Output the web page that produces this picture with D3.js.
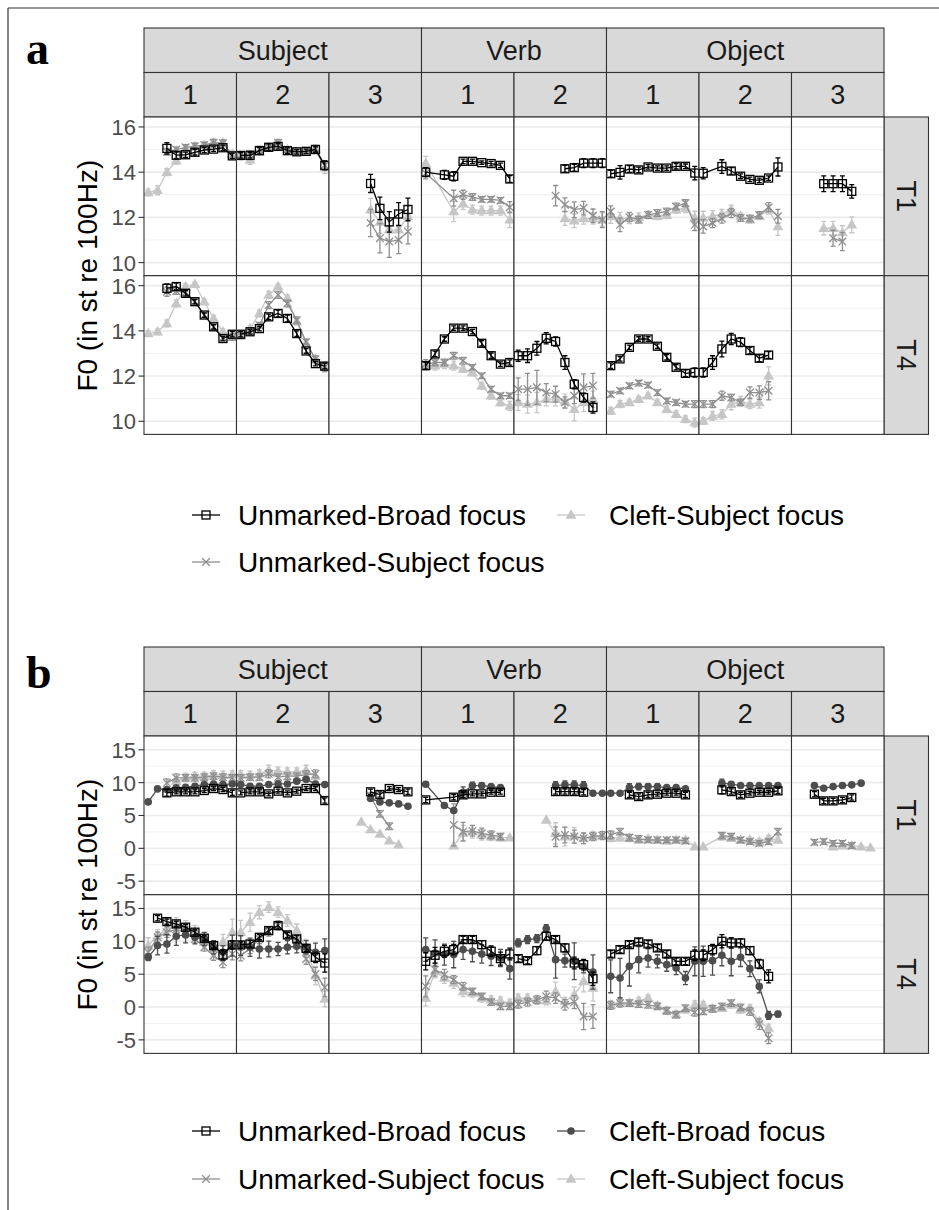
<!DOCTYPE html>
<html>
<head>
<meta charset="utf-8">
<script src="https://cdn.jsdelivr.net/npm/d3@7"></script>
<style>
body { margin: 0; background: #fff; }
svg { display: block; font-family: Arial, "Liberation Sans", sans-serif; }
</style>
</head>
<body>
<svg id="fig" width="939" height="1210"></svg>
<script>
// facet labels
var groupNames = ["Subject", "Verb", "Object"];
var groupSpans = [3, 2, 3];
var syllables = ["1", "2", "3", "1", "2", "1", "2", "3"];
var tones = ["T1", "T4"];
var timePoints = [1, 2, 3, 4, 5, 6, 7, 8, 9, 10];

var ticksA = [10, 12, 14, 16], minorA = [11, 13, 15];
var ticksB = [-5, 0, 5, 10, 15], minorB = [-2.5, 2.5, 7.5, 12.5];

// ---- panel a, T1 (one row of 10 time points per facet: S1 S2 S3 V1 V2 O1 O2 O3)
var aBroadT1 = [
  [null, null, 15.05, 14.75, 14.77, 14.88, 14.98, 15.02, 15.08, 14.72],
  [14.74, 14.74, 14.95, 15.1, 15.14, 14.95, 14.9, 14.92, 15.0, 14.3],
  [null, null, null, null, 13.5, 12.4, 11.8, 12.15, 12.35, null],
  [14.0, null, 13.88, 13.82, 14.48, 14.48, 14.42, 14.38, 14.3, 13.7],
  [null, null, null, null, null, 14.15, 14.2, 14.4, 14.4, 14.4],
  [13.93, 13.99, 14.14, 14.1, 14.23, 14.18, 14.18, 14.26, 14.26, 13.96],
  [13.95, null, 14.25, 14.05, 13.82, 13.68, 13.64, 13.74, 14.23, null],
  [null, null, null, 13.49, 13.49, 13.49, 13.15, null, null, null]
];
var aBroadT1Err = [
  [null, null, 0.25, 0.15, 0.12, 0.12, 0.12, 0.1, 0.12, 0.12],
  [0.12, 0.12, 0.15, 0.15, 0.12, 0.12, 0.1, 0.1, 0.12, 0.2],
  [null, null, null, null, 0.4, 0.5, 0.45, 0.5, 0.5, null],
  [0.2, null, 0.2, 0.2, 0.1, 0.1, 0.08, 0.1, 0.1, 0.15],
  [null, null, null, null, null, 0.15, 0.15, 0.2, 0.2, 0.2],
  [0.15, 0.3, 0.15, 0.12, 0.1, 0.1, 0.1, 0.12, 0.1, 0.3],
  [0.25, null, 0.3, 0.15, 0.1, 0.1, 0.1, 0.1, 0.4, null],
  [null, null, null, 0.35, 0.35, 0.35, 0.3, null, null, null]
];
var aSubjT1 = [
  [null, null, 14.9, 15.0, 15.1, 15.15, 15.2, 15.3, 15.28, 14.75],
  [14.75, 14.8, 15.0, 15.1, 15.3, 15.0, 14.9, 14.95, 15.05, 14.3],
  [null, null, null, null, 11.75, 11.08, 10.93, 11.0, 11.38, null],
  [13.95, null, null, 12.85, 13.0, 12.9, 12.8, 12.8, 12.75, 12.45],
  [null, null, null, null, 12.96, 12.56, 12.34, 12.41, 12.07, 11.9],
  [12.26, 11.67, 12.01, 11.9, 12.11, 12.19, 12.26, 12.48, 12.63, 11.67],
  [11.6, 11.75, 11.95, 12.19, 11.97, 11.95, 12.1, 12.45, 12.05, null],
  [null, null, null, null, 11.08, 10.93, null, null, null, null]
];
var aSubjT1Err = [
  [null, null, 0.15, 0.12, 0.12, 0.12, 0.12, 0.15, 0.15, 0.12],
  [0.12, 0.15, 0.15, 0.12, 0.15, 0.12, 0.12, 0.12, 0.15, 0.2],
  [null, null, null, null, 0.6, 0.65, 0.7, 0.6, 0.55, null],
  [0.25, null, null, 0.35, 0.2, 0.15, 0.12, 0.12, 0.12, 0.25],
  [null, null, null, null, 0.45, 0.3, 0.35, 0.3, 0.3, 0.35],
  [0.25, 0.3, 0.2, 0.15, 0.15, 0.15, 0.15, 0.15, 0.15, 0.25],
  [0.3, 0.2, 0.2, 0.2, 0.15, 0.15, 0.15, 0.2, 0.3, null],
  [null, null, null, null, 0.35, 0.4, null, null, null, null]
];
var aCleftSubjT1 = [
  [13.1, 13.2, 14.0, 14.5, 15.05, 15.15, 15.2, 15.3, 15.3, 14.8],
  [14.7, 14.55, 14.9, 15.1, 15.2, 15.0, 14.9, 14.9, 15.0, 14.2],
  [null, null, null, null, 12.34, 11.8, 11.45, 11.45, 12.04, null],
  [14.4, null, null, 12.26, 12.6, 12.34, 12.3, 12.3, 12.3, 11.9],
  [null, null, null, null, null, 11.95, 11.85, 11.95, 11.95, 11.9],
  [12.04, 11.97, 11.97, 12.0, 12.1, 12.05, 12.1, 12.34, 12.41, 11.97],
  [11.97, 12.05, 12.15, 12.34, 12.05, 11.9, 12.05, 12.34, 11.6, null],
  [null, null, null, 11.52, 11.52, 11.33, 11.67, null, null, null]
];
var aCleftSubjT1Err = [
  [0.15, 0.2, 0.15, 0.15, 0.15, 0.15, 0.15, 0.15, 0.15, 0.15],
  [0.15, 0.2, 0.15, 0.12, 0.12, 0.12, 0.12, 0.12, 0.12, 0.25],
  [null, null, null, null, 0.5, 0.5, 0.5, 0.5, 0.45, null],
  [0.3, null, null, 0.45, 0.25, 0.2, 0.2, 0.2, 0.2, 0.35],
  [null, null, null, null, null, 0.3, 0.3, 0.25, 0.25, 0.3],
  [0.3, 0.25, 0.25, 0.2, 0.15, 0.15, 0.15, 0.15, 0.2, 0.3],
  [0.3, 0.25, 0.2, 0.2, 0.15, 0.15, 0.15, 0.2, 0.4, null],
  [null, null, null, 0.3, 0.3, 0.3, 0.35, null, null, null]
];

// ---- panel a, T4
var aBroadT4 = [
  [null, null, 15.88, 15.96, 15.66, 15.29, 14.7, 14.18, 13.66, 13.85],
  [13.85, 13.96, 14.1, 14.62, 14.77, 14.55, 13.88, 13.11, 12.55, 12.44],
  [null, null, null, null, null, null, null, null, null, null],
  [12.46, 12.98, 13.64, 14.12, 14.12, 13.97, 13.45, 12.9, 12.53, 12.6],
  [12.9, 12.9, 13.23, 13.67, 13.53, 12.6, 11.64, 11.05, 10.61, null],
  [12.46, 12.76, 13.27, 13.64, 13.64, 13.32, 12.83, 12.39, 12.12, 12.16],
  [12.16, 12.6, 13.2, 13.64, 13.5, 13.13, 12.79, 12.93, null, null],
  [null, null, null, null, null, null, null, null, null, null]
];
var aBroadT4Err = [
  [null, null, 0.2, 0.15, 0.12, 0.1, 0.1, 0.1, 0.1, 0.12],
  [0.12, 0.1, 0.1, 0.12, 0.15, 0.15, 0.12, 0.1, 0.1, 0.12],
  [null, null, null, null, null, null, null, null, null, null],
  [0.15, 0.12, 0.1, 0.1, 0.1, 0.1, 0.12, 0.12, 0.1, 0.12],
  [0.25, 0.3, 0.3, 0.25, 0.2, 0.3, 0.2, 0.2, 0.25, null],
  [0.12, 0.1, 0.1, 0.1, 0.1, 0.1, 0.12, 0.12, 0.15, 0.2],
  [0.2, 0.3, 0.35, 0.25, 0.2, 0.15, 0.15, 0.15, null, null],
  [null, null, null, null, null, null, null, null, null, null]
];
var aSubjT4 = [
  [null, null, 15.73, 15.76, 15.7, 15.29, 14.7, 14.18, 13.7, 13.73],
  [13.8, 13.98, 14.25, 15.14, 15.59, 15.21, 14.47, 13.51, 12.74, 12.4],
  [null, null, null, null, null, null, null, null, null, null],
  [12.53, 12.6, 12.6, 12.9, 12.68, 12.39, 12.01, 11.42, 11.13, 11.13],
  [11.42, 11.42, 11.5, 11.27, 11.2, 10.83, 11.13, 11.5, 11.57, null],
  [11.2, 11.35, 11.57, 11.69, 11.6, 11.27, 10.9, 10.83, 10.76, 10.76],
  [10.76, 10.76, 11.13, 11.05, 10.83, 11.27, 11.27, 11.35, null, null],
  [null, null, null, null, null, null, null, null, null, null]
];
var aSubjT4Err = [
  [null, null, 0.2, 0.15, 0.12, 0.12, 0.12, 0.12, 0.12, 0.15],
  [0.15, 0.12, 0.12, 0.15, 0.15, 0.15, 0.15, 0.12, 0.15, 0.2],
  [null, null, null, null, null, null, null, null, null, null],
  [0.2, 0.15, 0.15, 0.15, 0.15, 0.12, 0.12, 0.12, 0.12, 0.12],
  [0.5, 0.7, 0.75, 0.4, 0.35, 0.25, 0.35, 0.6, 0.55, null],
  [0.12, 0.12, 0.12, 0.12, 0.12, 0.12, 0.12, 0.12, 0.12, 0.15],
  [0.15, 0.15, 0.2, 0.15, 0.15, 0.25, 0.3, 0.4, null, null],
  [null, null, null, null, null, null, null, null, null, null]
];
var aCleftSubjT4 = [
  [13.88, 13.96, 14.33, 15.21, 15.96, 16.06, 15.29, 14.55, 13.96, 13.73],
  [13.8, 14.1, 14.77, 15.59, 15.96, 15.44, 14.4, 13.44, 12.77, 12.4],
  [null, null, null, null, null, null, null, null, null, null],
  [12.46, 12.46, 12.53, 12.46, 12.31, 12.16, 11.57, 11.13, 10.83, 10.68],
  [10.83, 10.76, 10.83, 10.98, 10.98, 10.9, 10.53, 10.83, 10.98, null],
  [10.46, 10.76, 10.83, 10.98, 11.13, 10.83, 10.53, 10.31, 10.09, 9.94],
  [10.01, 10.24, 10.31, 10.76, 10.9, 10.76, 10.83, 12.01, null, null],
  [null, null, null, null, null, null, null, null, null, null]
];
var aCleftSubjT4Err = [
  [0.12, 0.12, 0.15, 0.15, 0.12, 0.1, 0.12, 0.12, 0.12, 0.15],
  [0.12, 0.12, 0.15, 0.15, 0.12, 0.15, 0.15, 0.15, 0.15, 0.2],
  [null, null, null, null, null, null, null, null, null, null],
  [0.2, 0.2, 0.2, 0.2, 0.15, 0.15, 0.15, 0.15, 0.15, 0.2],
  [0.35, 0.4, 0.45, 0.3, 0.3, 0.3, 0.5, 0.4, 0.35, null],
  [0.15, 0.15, 0.12, 0.12, 0.12, 0.12, 0.15, 0.15, 0.15, 0.2],
  [0.15, 0.2, 0.2, 0.25, 0.2, 0.2, 0.25, 0.4, null, null],
  [null, null, null, null, null, null, null, null, null, null]
];

// ---- panel b, T1
var bBroadT1 = [
  [null, null, 8.44, 8.6, 8.6, 8.6, 8.8, 9.1, 8.95, 8.44],
  [8.44, 8.6, 8.6, 8.29, 8.7, 8.44, 8.7, 9.1, 9.1, 7.27],
  [null, null, null, null, 8.6, 8.19, 9.1, 8.95, 8.6, null],
  [7.37, null, null, 7.78, 8.14, 8.29, 8.29, 8.54, 8.54, null],
  [null, null, null, null, 8.64, 8.64, 8.64, 8.54, null, null],
  [null, null, 8.14, 7.88, 8.14, 8.24, 8.39, 8.39, 8.14, null],
  [null, null, 8.9, 8.64, 8.14, 8.39, 8.54, 8.54, 8.75, null],
  [null, null, 8.24, 7.22, 7.22, 7.37, 7.73, null, null, null]
];
var bBroadT1Err = [
  [null, null, 0.5, 0.3, 0.3, 0.3, 0.3, 0.3, 0.3, 0.4],
  [0.3, 0.3, 0.3, 0.3, 0.3, 0.3, 0.3, 0.3, 0.3, 0.4],
  [null, null, null, null, 0.4, 0.4, 0.3, 0.3, 0.4, null],
  [0.4, null, null, 0.4, 0.4, 0.3, 0.3, 0.3, 0.3, null],
  [null, null, null, null, 0.4, 0.4, 0.4, 0.4, null, null],
  [null, null, 0.4, 0.4, 0.4, 0.3, 0.3, 0.3, 0.4, null],
  [null, null, 0.6, 0.4, 0.4, 0.3, 0.3, 0.3, 0.4, null],
  [null, null, 0.4, 0.4, 0.4, 0.4, 0.4, null, null, null]
];
var bSubjT1 = [
  [null, null, 9.97, 10.73, 10.73, 10.73, 10.83, 10.98, 10.83, 10.73],
  [10.73, 10.83, 10.83, 11.34, 10.83, 10.98, 10.98, 11.24, 11.34, null],
  [null, null, null, null, 7.93, 5.24, 3.36, null, null, null],
  [null, null, null, 3.56, 2.54, 2.65, 2.29, 2.04, 1.78, null],
  [null, null, null, null, 1.78, 2.04, 1.78, 1.53, 1.78, 1.94],
  [2.04, 2.54, 1.63, 1.43, 1.27, 1.27, 1.27, 1.27, 1.12, null],
  [null, null, 1.94, 1.78, 1.27, 1.02, 0.77, 1.02, 2.54, null],
  [null, null, 0.92, 1.02, 0.77, 0.77, 0.41, null, null, null]
];
var bSubjT1Err = [
  [null, null, 0.6, 0.6, 0.5, 0.5, 0.5, 0.5, 0.5, 0.5],
  [0.5, 0.5, 0.5, 0.6, 0.5, 0.5, 0.5, 0.6, 0.6, null],
  [null, null, null, null, 0.5, 0.5, 0.5, null, null, null],
  [null, null, null, 3.2, 1.4, 0.8, 0.8, 0.6, 0.5, null],
  [null, null, null, null, 1.5, 1.2, 1.0, 0.8, 0.6, 0.6],
  [0.6, 0.5, 0.5, 0.5, 0.4, 0.4, 0.4, 0.4, 0.4, null],
  [null, null, 0.5, 0.5, 0.4, 0.4, 0.4, 0.4, 0.5, null],
  [null, null, 0.4, 0.4, 0.4, 0.4, 0.4, null, null, null]
];
var bCleftBroadT1 = [
  [7.07, 9.05, 8.95, 9.2, 9.3, 9.46, 9.7, 9.8, 9.7, 9.8],
  [9.71, 9.46, 9.46, 9.71, 9.8, 9.8, 10.2, 10.48, 9.8, 9.7],
  [null, null, null, null, 7.58, 7.07, 6.92, 6.76, 6.4, null],
  [9.76, null, 6.51, 5.75, 8.54, 9.56, 9.56, 9.4, 9.25, null],
  [null, null, null, null, 9.56, 9.66, 9.66, 9.56, 8.39, 8.39],
  [8.39, 8.39, 9.25, 9.4, 9.4, 9.4, 9.25, 9.25, 9.05, null],
  [null, null, 9.92, 9.76, 9.56, 9.56, 9.56, 9.56, 9.56, null],
  [null, null, 9.56, 9.15, 9.4, 9.56, 9.66, 9.92, null, null]
];
var bCleftBroadT1Err = [
  [null, null, 0.3, 0.3, 0.3, 0.3, 0.3, 0.3, 0.3, null],
  [0.3, 0.3, 0.3, 0.3, 0.3, 0.3, 0.3, 0.3, 0.3, null],
  [null, null, null, null, null, null, null, null, null, null],
  [null, null, null, null, 0.8, 0.5, 0.4, 0.3, 0.3, null],
  [null, null, null, null, 0.6, 0.6, 0.6, 0.6, null, null],
  [null, null, 0.6, 0.5, 0.4, 0.4, 0.3, 0.3, 0.3, null],
  [null, null, 0.6, 0.4, 0.3, 0.3, 0.3, 0.3, 0.3, null],
  [null, null, null, null, null, null, null, null, null, null]
];
var bCleftSubjT1 = [
  [null, null, null, 10.2, 10.8, 10.98, 10.98, 11.24, 11.14, 11.24],
  [11.24, 11.14, 11.34, 11.85, 11.75, 11.65, 11.65, 11.85, 10.98, null],
  [null, null, null, 4.02, 2.85, 2.19, 1.17, 0.56, null, null],
  [null, null, null, 0.41, 2.29, 2.54, 2.04, 1.78, 1.63, 1.63],
  [null, null, null, 4.32, 2.29, 1.78, 1.94, 1.53, 1.94, 1.94],
  [1.53, 1.63, 1.53, 1.27, 1.43, 1.27, 1.12, 1.27, 1.27, 0.26],
  [0.26, null, 1.78, 1.53, 1.27, 1.27, 1.02, 1.53, 1.27, null],
  [null, null, null, null, 0.26, 0.41, 0.41, 0.26, 0.1, null]
];
var bCleftSubjT1Err = [
  [null, null, null, 0.6, 0.6, 0.6, 0.6, 0.6, 0.6, 0.6],
  [0.6, 0.6, 0.6, 0.8, 0.6, 0.6, 0.6, 0.8, 0.6, null],
  [null, null, null, null, null, null, null, null, null, null],
  [null, null, null, null, 1.2, 1.0, 0.8, 0.6, 0.5, null],
  [null, null, null, null, 1.6, 1.4, 1.2, 0.8, 0.6, null],
  [0.5, 0.5, 0.5, 0.4, 0.4, 0.4, 0.4, 0.4, 0.4, null],
  [null, null, 0.5, 0.4, 0.4, 0.4, 0.4, 0.4, 0.4, null],
  [null, null, null, null, null, null, null, null, null, null]
];

// ---- panel b, T4
var bBroadT4 = [
  [null, 13.52, 13.0, 12.66, 12.15, 11.39, 10.47, 9.35, 7.93, 9.45],
  [9.45, 9.6, 10.62, 11.64, 12.4, 10.98, 10.37, 8.94, 7.57, 6.7],
  [null, null, null, null, null, null, null, null, null, null],
  [6.96, 7.88, 8.49, 8.74, 10.27, 10.27, 9.5, 8.49, 7.37, 8.08],
  [7.37, 7.06, 8.59, 10.78, 10.27, 9.0, 6.7, 6.45, 4.31, null],
  [8.08, 8.74, 9.5, 9.91, 9.61, 9.0, 8.08, 6.96, 6.96, 7.88],
  [7.88, 8.74, 10.01, 9.76, 9.76, 8.59, 6.55, 4.67, null, null],
  [null, null, null, null, null, null, null, null, null, null]
];
var bBroadT4Err = [
  [null, 0.4, 0.4, 0.4, 0.4, 0.4, 0.4, 0.4, 0.8, 0.6],
  [0.5, 0.5, 0.4, 0.4, 0.5, 0.4, 0.5, 0.5, 0.8, 1.4],
  [null, null, null, null, null, null, null, null, null, null],
  [1.3, 1.2, 0.9, 0.8, 0.5, 0.5, 0.6, 0.8, 1.0, 0.9],
  [0.5, 0.5, 0.6, 0.6, 0.5, 0.6, 0.9, 0.8, 1.0, null],
  [0.5, 0.5, 0.5, 0.5, 0.5, 0.5, 0.5, 0.5, 0.5, 0.8],
  [0.8, 0.8, 1.0, 0.8, 0.6, 0.6, 0.7, 1.0, null, null],
  [null, null, null, null, null, null, null, null, null, null]
];
var bSubjT4 = [
  [8.33, 10.62, 11.39, 11.8, 11.39, 10.37, 9.1, 7.82, 6.8, 8.08],
  [7.82, 8.94, 10.37, 11.49, 12.4, 10.88, 10.12, 7.31, 5.03, 2.99],
  [null, null, null, null, null, null, null, null, null, null],
  [3.14, 5.69, 4.92, 4.16, 3.14, 2.38, 1.62, 0.75, 0.09, 0.09],
  [0.44, 0.75, 1.1, 1.62, 1.36, 0.34, 0.75, -1.44, -1.44, null],
  [0.24, 0.6, 0.6, 0.44, 0.34, 0.09, -0.57, -1.18, -0.17, -0.78],
  [-0.67, -0.27, 0.09, 0.6, -0.06, -0.67, -2.6, -4.75, null, null],
  [null, null, null, null, null, null, null, null, null, null]
];
var bSubjT4Err = [
  [0.8, 0.8, 0.8, 0.7, 0.6, 0.6, 0.6, 0.7, 0.8, 0.9],
  [0.8, 0.8, 0.7, 0.7, 0.7, 0.6, 0.7, 0.8, 1.0, 1.4],
  [null, null, null, null, null, null, null, null, null, null],
  [1.6, 1.0, 0.8, 0.6, 0.6, 0.5, 0.5, 0.5, 0.5, 0.5],
  [0.6, 0.6, 0.6, 0.8, 0.8, 0.8, 1.0, 2.0, 1.8, null],
  [0.6, 0.6, 0.5, 0.5, 0.5, 0.5, 0.5, 0.5, 0.5, 0.6],
  [0.5, 0.5, 0.5, 0.5, 0.5, 0.6, 0.8, 0.8, null, null],
  [null, null, null, null, null, null, null, null, null, null]
];
var bCleftBroadT4 = [
  [7.57, 9.35, 9.6, 10.78, 10.98, 10.62, 10.37, 9.1, 8.33, 9.35],
  [9.35, 9.1, 8.84, 8.84, 8.84, 9.1, 9.25, 9.1, 8.33, 8.59],
  [null, null, null, null, null, null, null, null, null, null],
  [8.74, 8.23, 7.98, 7.98, 8.74, 8.49, 8.08, 7.72, 7.47, 5.84],
  [9.76, 10.27, 10.42, 11.95, 7.21, 7.06, 6.96, 6.2, 5.33, null],
  [4.67, 4.41, 6.2, 7.21, 7.47, 6.96, 6.45, 5.94, 4.41, 6.96],
  [6.96, 7.06, 7.88, 6.96, 7.57, 5.84, 3.14, -1.28, -1.08, null],
  [null, null, null, null, null, null, null, null, null, null]
];
var bCleftBroadT4Err = [
  [0.5, 1.4, 1.4, 1.4, 1.2, 1.0, 1.0, 1.0, 1.0, 1.6],
  [1.5, 1.4, 1.4, 1.2, 1.0, 1.0, 1.0, 1.0, 1.4, 1.8],
  [null, null, null, null, null, null, null, null, null, null],
  [1.8, 2.0, 1.6, 2.0, 1.5, 1.6, 1.4, 1.4, 1.3, 1.6],
  [0.6, 0.6, 0.6, 0.6, 2.8, 1.0, 2.8, 1.0, 2.6, null],
  [2.5, 3.0, 3.0, 2.0, 1.4, 1.0, 1.0, 1.0, 1.0, 2.2],
  [2.3, 2.2, 1.6, 2.2, 1.4, 1.2, 1.0, 0.6, 0.4, null],
  [null, null, null, null, null, null, null, null, null, null]
];
var bCleftSubjT4 = [
  [9.35, 10.88, 11.9, 12.4, 12.15, 11.49, 9.86, 8.84, 9.86, 11.39],
  [11.39, 12.91, 14.44, 15.2, 14.44, 13.17, 11.64, 9.1, 4.77, 1.21],
  [null, null, null, null, null, null, null, null, null, null],
  [1.36, 5.43, 4.41, 3.65, 2.38, 2.12, 1.36, 1.1, 0.95, 0.6],
  [1.36, 1.36, 1.1, 0.95, 2.38, 0.85, 1.87, 3.91, 2.89, null],
  [0.34, 0.75, 0.6, 0.95, 1.36, 0.24, -0.57, -1.08, -0.42, 0.34],
  [0.34, -0.27, -0.17, 0.34, -0.42, -0.17, -2.2, -3.2, null, null],
  [null, null, null, null, null, null, null, null, null, null]
];
var bCleftSubjT4Err = [
  [1.2, 0.9, 0.9, 1.2, 1.0, 0.9, 0.9, 1.0, 1.2, 2.0],
  [1.8, 1.4, 1.0, 0.8, 0.8, 0.9, 1.0, 1.2, 1.4, 1.2],
  [null, null, null, null, null, null, null, null, null, null],
  [1.2, 1.0, 0.8, 0.8, 0.8, 0.6, 0.6, 0.6, 0.6, 0.6],
  [0.6, 0.6, 0.6, 0.6, 1.4, 0.6, 1.2, 1.6, 2.0, null],
  [0.6, 0.6, 0.5, 0.5, 0.5, 0.5, 0.5, 0.5, 0.5, 0.6],
  [0.5, 0.5, 0.5, 0.5, 0.5, 0.5, 0.5, 0.6, null, null],
  [null, null, null, null, null, null, null, null, null, null]
];

// ---- styling
var styles = {
  "Unmarked-Broad focus":   {color: "#000000", shape: "square"},
  "Unmarked-Subject focus": {color: "#8f8f8f", shape: "cross"},
  "Cleft-Broad focus":      {color: "#4d4d4d", shape: "circle"},
  "Cleft-Subject focus":    {color: "#c6c6c6", shape: "triangle"}
};

var svg = d3.select("#fig");
var x0 = 144, colW = 92.5, stripH = 44.5, rowH = 158.7;
var plotRight = x0 + colW * 8;

// outer frame lines
svg.append("line").attr("x1", 8).attr("x2", 8).attr("y1", 8).attr("y2", 1210)
  .attr("stroke", "#333").attr("stroke-width", 1.2);
svg.append("line").attr("x1", 8).attr("x2", 939).attr("y1", 8).attr("y2", 8)
  .attr("stroke", "#333").attr("stroke-width", 1.2);

var xs = d3.scaleLinear().domain([0.55, 10.45]).range([0, colW]);

function drawMarker(g, shape, color, cx, cy) {
  if (shape == "square") {
    g.append("rect").attr("x", cx - 4).attr("y", cy - 4).attr("width", 8).attr("height", 8)
      .attr("fill", "none").attr("stroke", color).attr("stroke-width", 1.3);
  } else if (shape == "cross") {
    g.append("path").attr("d", "M" + (cx - 3.8) + "," + (cy - 3.8) + "L" + (cx + 3.8) + "," + (cy + 3.8) +
      "M" + (cx - 3.8) + "," + (cy + 3.8) + "L" + (cx + 3.8) + "," + (cy - 3.8))
      .attr("stroke", color).attr("stroke-width", 1.3).attr("fill", "none");
  } else if (shape == "circle") {
    g.append("circle").attr("cx", cx).attr("cy", cy).attr("r", 3.8).attr("fill", color);
  } else {
    g.append("path").attr("d", d3.symbol().type(d3.symbolTriangle).size(52)())
      .attr("transform", "translate(" + cx + "," + (cy + 0.6) + ")").attr("fill", color);
  }
}

function drawPanel(p) {
  var top = p.top;
  var panelTop = top + 2 * stripH;

  // letter label
  svg.append("text").attr("x", 26).attr("y", p.labelY).text(p.label)
    .attr("font-family", "'Liberation Serif', 'DejaVu Serif', serif")
    .attr("font-weight", "bold").attr("font-size", 46).attr("fill", "#000");

  // strips: groups
  var c = 0;
  groupNames.forEach(function(name, i) {
    var gx = x0 + c * colW, gw = groupSpans[i] * colW;
    svg.append("rect").attr("x", gx).attr("y", top).attr("width", gw).attr("height", stripH)
      .attr("fill", "#d9d9d9").attr("stroke", "#333").attr("stroke-width", 1.1);
    svg.append("text").attr("x", gx + gw / 2).attr("y", top + stripH / 2).attr("dy", "0.36em")
      .attr("text-anchor", "middle").attr("font-size", 27).attr("fill", "#1a1a1a").text(name);
    c += groupSpans[i];
  });
  syllables.forEach(function(s, i) {
    svg.append("rect").attr("x", x0 + i * colW).attr("y", top + stripH).attr("width", colW).attr("height", stripH)
      .attr("fill", "#d9d9d9").attr("stroke", "#333").attr("stroke-width", 1.1);
    svg.append("text").attr("x", x0 + i * colW + colW / 2).attr("y", top + stripH * 1.5).attr("dy", "0.36em")
      .attr("text-anchor", "middle").attr("font-size", 27).attr("fill", "#1a1a1a").text(s);
  });

  tones.forEach(function(tone, r) {
    var ry = panelTop + r * rowH;
    var y = d3.scaleLinear().domain(p.yDomain).range([ry + rowH, ry]);

    // right strip
    svg.append("rect").attr("x", plotRight).attr("y", ry).attr("width", stripH).attr("height", rowH)
      .attr("fill", "#d9d9d9").attr("stroke", "#333").attr("stroke-width", 1.1);
    svg.append("text").attr("transform", "translate(" + (plotRight + stripH / 2) + "," + (ry + rowH / 2) + ") rotate(90)")
      .attr("dy", "0.36em").attr("text-anchor", "middle").attr("font-size", 27).attr("fill", "#1a1a1a").text(tone);

    // y axis
    p.ticks.forEach(function(t) {
      svg.append("line").attr("x1", x0 - 5.5).attr("x2", x0).attr("y1", y(t)).attr("y2", y(t))
        .attr("stroke", "#333").attr("stroke-width", 1.1);
      svg.append("text").attr("x", x0 - 8).attr("y", y(t)).attr("dy", "0.36em").attr("text-anchor", "end")
        .attr("font-size", 22).attr("fill", "#4d4d4d").text(t);
    });

    syllables.forEach(function(s, ci) {
      var cx = x0 + ci * colW;
      var clipId = "clip-" + p.label + r + ci;
      svg.append("clipPath").attr("id", clipId).append("rect")
        .attr("x", cx).attr("y", ry).attr("width", colW).attr("height", rowH);
      var g = svg.append("g").attr("clip-path", "url(#" + clipId + ")");
      g.append("rect").attr("x", cx).attr("y", ry).attr("width", colW).attr("height", rowH).attr("fill", "#fff");
      p.minor.forEach(function(t) {
        g.append("line").attr("x1", cx).attr("x2", cx + colW).attr("y1", y(t)).attr("y2", y(t))
          .attr("stroke", "#ededed").attr("stroke-width", 0.8);
      });
      p.ticks.forEach(function(t) {
        g.append("line").attr("x1", cx).attr("x2", cx + colW).attr("y1", y(t)).attr("y2", y(t))
          .attr("stroke", "#ebebeb").attr("stroke-width", 1.6);
      });

      p.series.forEach(function(se) {
        var st = styles[se.name];
        var vals = se.data[r][ci], errs = se.err[r][ci];
        var pts = [];
        timePoints.forEach(function(tp, k) {
          if (vals[k] != null) pts.push({t: tp, v: vals[k], e: errs[k]});
        });
        if (!pts.length) return;
        var line = d3.line().x(function(d) { return cx + xs(d.t); }).y(function(d) { return y(d.v); });
        g.append("path").attr("d", line(pts)).attr("fill", "none")
          .attr("stroke", st.color).attr("stroke-width", 1.3);
        pts.forEach(function(d) {
          if (d.e == null) return;
          var px = cx + xs(d.t);
          g.append("path").attr("d", "M" + px + "," + y(d.v - d.e) + "V" + y(d.v + d.e) +
            "M" + (px - 2.5) + "," + y(d.v - d.e) + "H" + (px + 2.5) +
            "M" + (px - 2.5) + "," + y(d.v + d.e) + "H" + (px + 2.5))
            .attr("stroke", st.color).attr("stroke-width", 1.3).attr("fill", "none");
        });
        pts.forEach(function(d) { drawMarker(g, st.shape, st.color, cx + xs(d.t), y(d.v)); });
      });

      svg.append("rect").attr("x", cx).attr("y", ry).attr("width", colW).attr("height", rowH)
        .attr("fill", "none").attr("stroke", "#333").attr("stroke-width", 1.1);
    });
  });

  // axis title
  svg.append("text").attr("transform", "translate(" + 87 + "," + (panelTop + rowH) + ") rotate(-90)")
    .attr("dy", "0.36em").attr("text-anchor", "middle").attr("font-size", 28).attr("fill", "#000")
    .text("F0 (in st re 100Hz)");

  // legend
  p.legend.forEach(function(item) {
    var st = styles[item.name];
    var kx = item.col == 0 ? 206 : 571;
    var tx = item.col == 0 ? 238 : 609;
    var ly = p.legendY[item.row];
    var lg = svg.append("g");
    lg.append("line").attr("x1", kx - 14).attr("x2", kx + 14).attr("y1", ly).attr("y2", ly)
      .attr("stroke", st.color).attr("stroke-width", 1.3);
    drawMarker(lg, st.shape, st.color, kx, ly);
    lg.append("text").attr("x", tx).attr("y", ly).attr("dy", "0.36em").attr("font-size", 28)
      .attr("fill", "#000").text(item.name);
  });
}

drawPanel({
  label: "a", labelY: 64, top: 28, yDomain: [9.42, 16.44], ticks: ticksA, minor: minorA,
  series: [
    {name: "Cleft-Subject focus", data: [aCleftSubjT1, aCleftSubjT4], err: [aCleftSubjT1Err, aCleftSubjT4Err]},
    {name: "Unmarked-Subject focus", data: [aSubjT1, aSubjT4], err: [aSubjT1Err, aSubjT4Err]},
    {name: "Unmarked-Broad focus", data: [aBroadT1, aBroadT4], err: [aBroadT1Err, aBroadT4Err]}
  ],
  legendY: [515, 562],
  legend: [
    {name: "Unmarked-Broad focus", col: 0, row: 0},
    {name: "Cleft-Subject focus", col: 1, row: 0},
    {name: "Unmarked-Subject focus", col: 0, row: 1}
  ]
});

drawPanel({
  label: "b", labelY: 688, top: 647, yDomain: [-7.06, 17.1], ticks: ticksB, minor: minorB,
  series: [
    {name: "Cleft-Subject focus", data: [bCleftSubjT1, bCleftSubjT4], err: [bCleftSubjT1Err, bCleftSubjT4Err]},
    {name: "Unmarked-Subject focus", data: [bSubjT1, bSubjT4], err: [bSubjT1Err, bSubjT4Err]},
    {name: "Cleft-Broad focus", data: [bCleftBroadT1, bCleftBroadT4], err: [bCleftBroadT1Err, bCleftBroadT4Err]},
    {name: "Unmarked-Broad focus", data: [bBroadT1, bBroadT4], err: [bBroadT1Err, bBroadT4Err]}
  ],
  legendY: [1131, 1179],
  legend: [
    {name: "Unmarked-Broad focus", col: 0, row: 0},
    {name: "Cleft-Broad focus", col: 1, row: 0},
    {name: "Unmarked-Subject focus", col: 0, row: 1},
    {name: "Cleft-Subject focus", col: 1, row: 1}
  ]
});
</script>
</body>
</html>
